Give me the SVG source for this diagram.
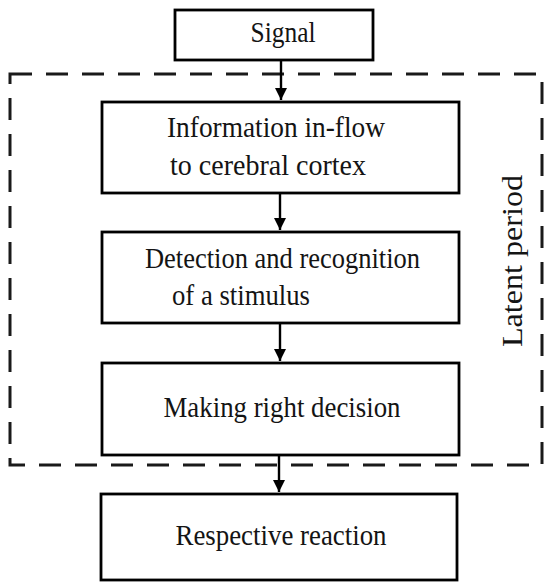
<svg xmlns="http://www.w3.org/2000/svg" width="545" height="584" viewBox="0 0 545 584">
  <style>
    .box { fill: #fff; stroke: #000; stroke-width: 2.8; }
    .latent { fill: none; stroke: #1a1a1a; stroke-width: 3; stroke-dasharray: 22 14; }
    .edge { stroke: #000; stroke-width: 2.4; fill: none; marker-end: url(#head); }
    text { font-family: "Liberation Serif", "DejaVu Serif", serif; font-size: 29px; fill: #141414; }
    .c { text-anchor: middle; }
  </style>
  <defs>
    <marker id="head" markerUnits="userSpaceOnUse" markerWidth="14" markerHeight="24" refX="12" refY="6" orient="auto">
      <path d="M0,0 L12,6 L0,12 Z" fill="#000"/>
    </marker>
  </defs>
  <rect width="545" height="584" fill="#fff"/>

  <!-- dashed frame around the latent period -->
  <g id="latent-period">
    <rect class="latent" x="10" y="74" width="532" height="391"/>
    <text transform="translate(522,261) rotate(-90)" class="c" textLength="172" lengthAdjust="spacingAndGlyphs">Latent period</text>
  </g>

  <g id="connectors">
    <path class="edge" d="M281,60 V100"/>
    <path class="edge" d="M280,193 V230"/>
    <path class="edge" d="M280,323 V361"/>
    <path class="edge" d="M279,455 V492"/>
  </g>

  <g id="signal">
    <rect class="box" x="175" y="10" width="198" height="50"/>
    <text class="c" x="283" y="42" textLength="65" lengthAdjust="spacingAndGlyphs">Signal</text>
  </g>

  <g id="inflow">
    <rect class="box" x="102" y="102" width="357" height="91"/>
    <text x="167" y="137" textLength="218" lengthAdjust="spacingAndGlyphs">Information in-flow</text>
    <text x="170" y="175" textLength="196" lengthAdjust="spacingAndGlyphs">to cerebral cortex</text>
  </g>

  <g id="detection">
    <rect class="box" x="102" y="232" width="357" height="91"/>
    <text x="145" y="268" textLength="275" lengthAdjust="spacingAndGlyphs">Detection and recognition</text>
    <text x="172" y="305" textLength="138" lengthAdjust="spacingAndGlyphs">of a stimulus</text>
  </g>

  <g id="decision">
    <rect class="box" x="102" y="363" width="357" height="92"/>
    <text class="c" x="282" y="417" textLength="237" lengthAdjust="spacingAndGlyphs">Making right decision</text>
  </g>

  <g id="reaction">
    <rect class="box" x="101" y="494" width="356" height="86"/>
    <text class="c" x="281" y="545" textLength="211" lengthAdjust="spacingAndGlyphs">Respective reaction</text>
  </g>
</svg>
